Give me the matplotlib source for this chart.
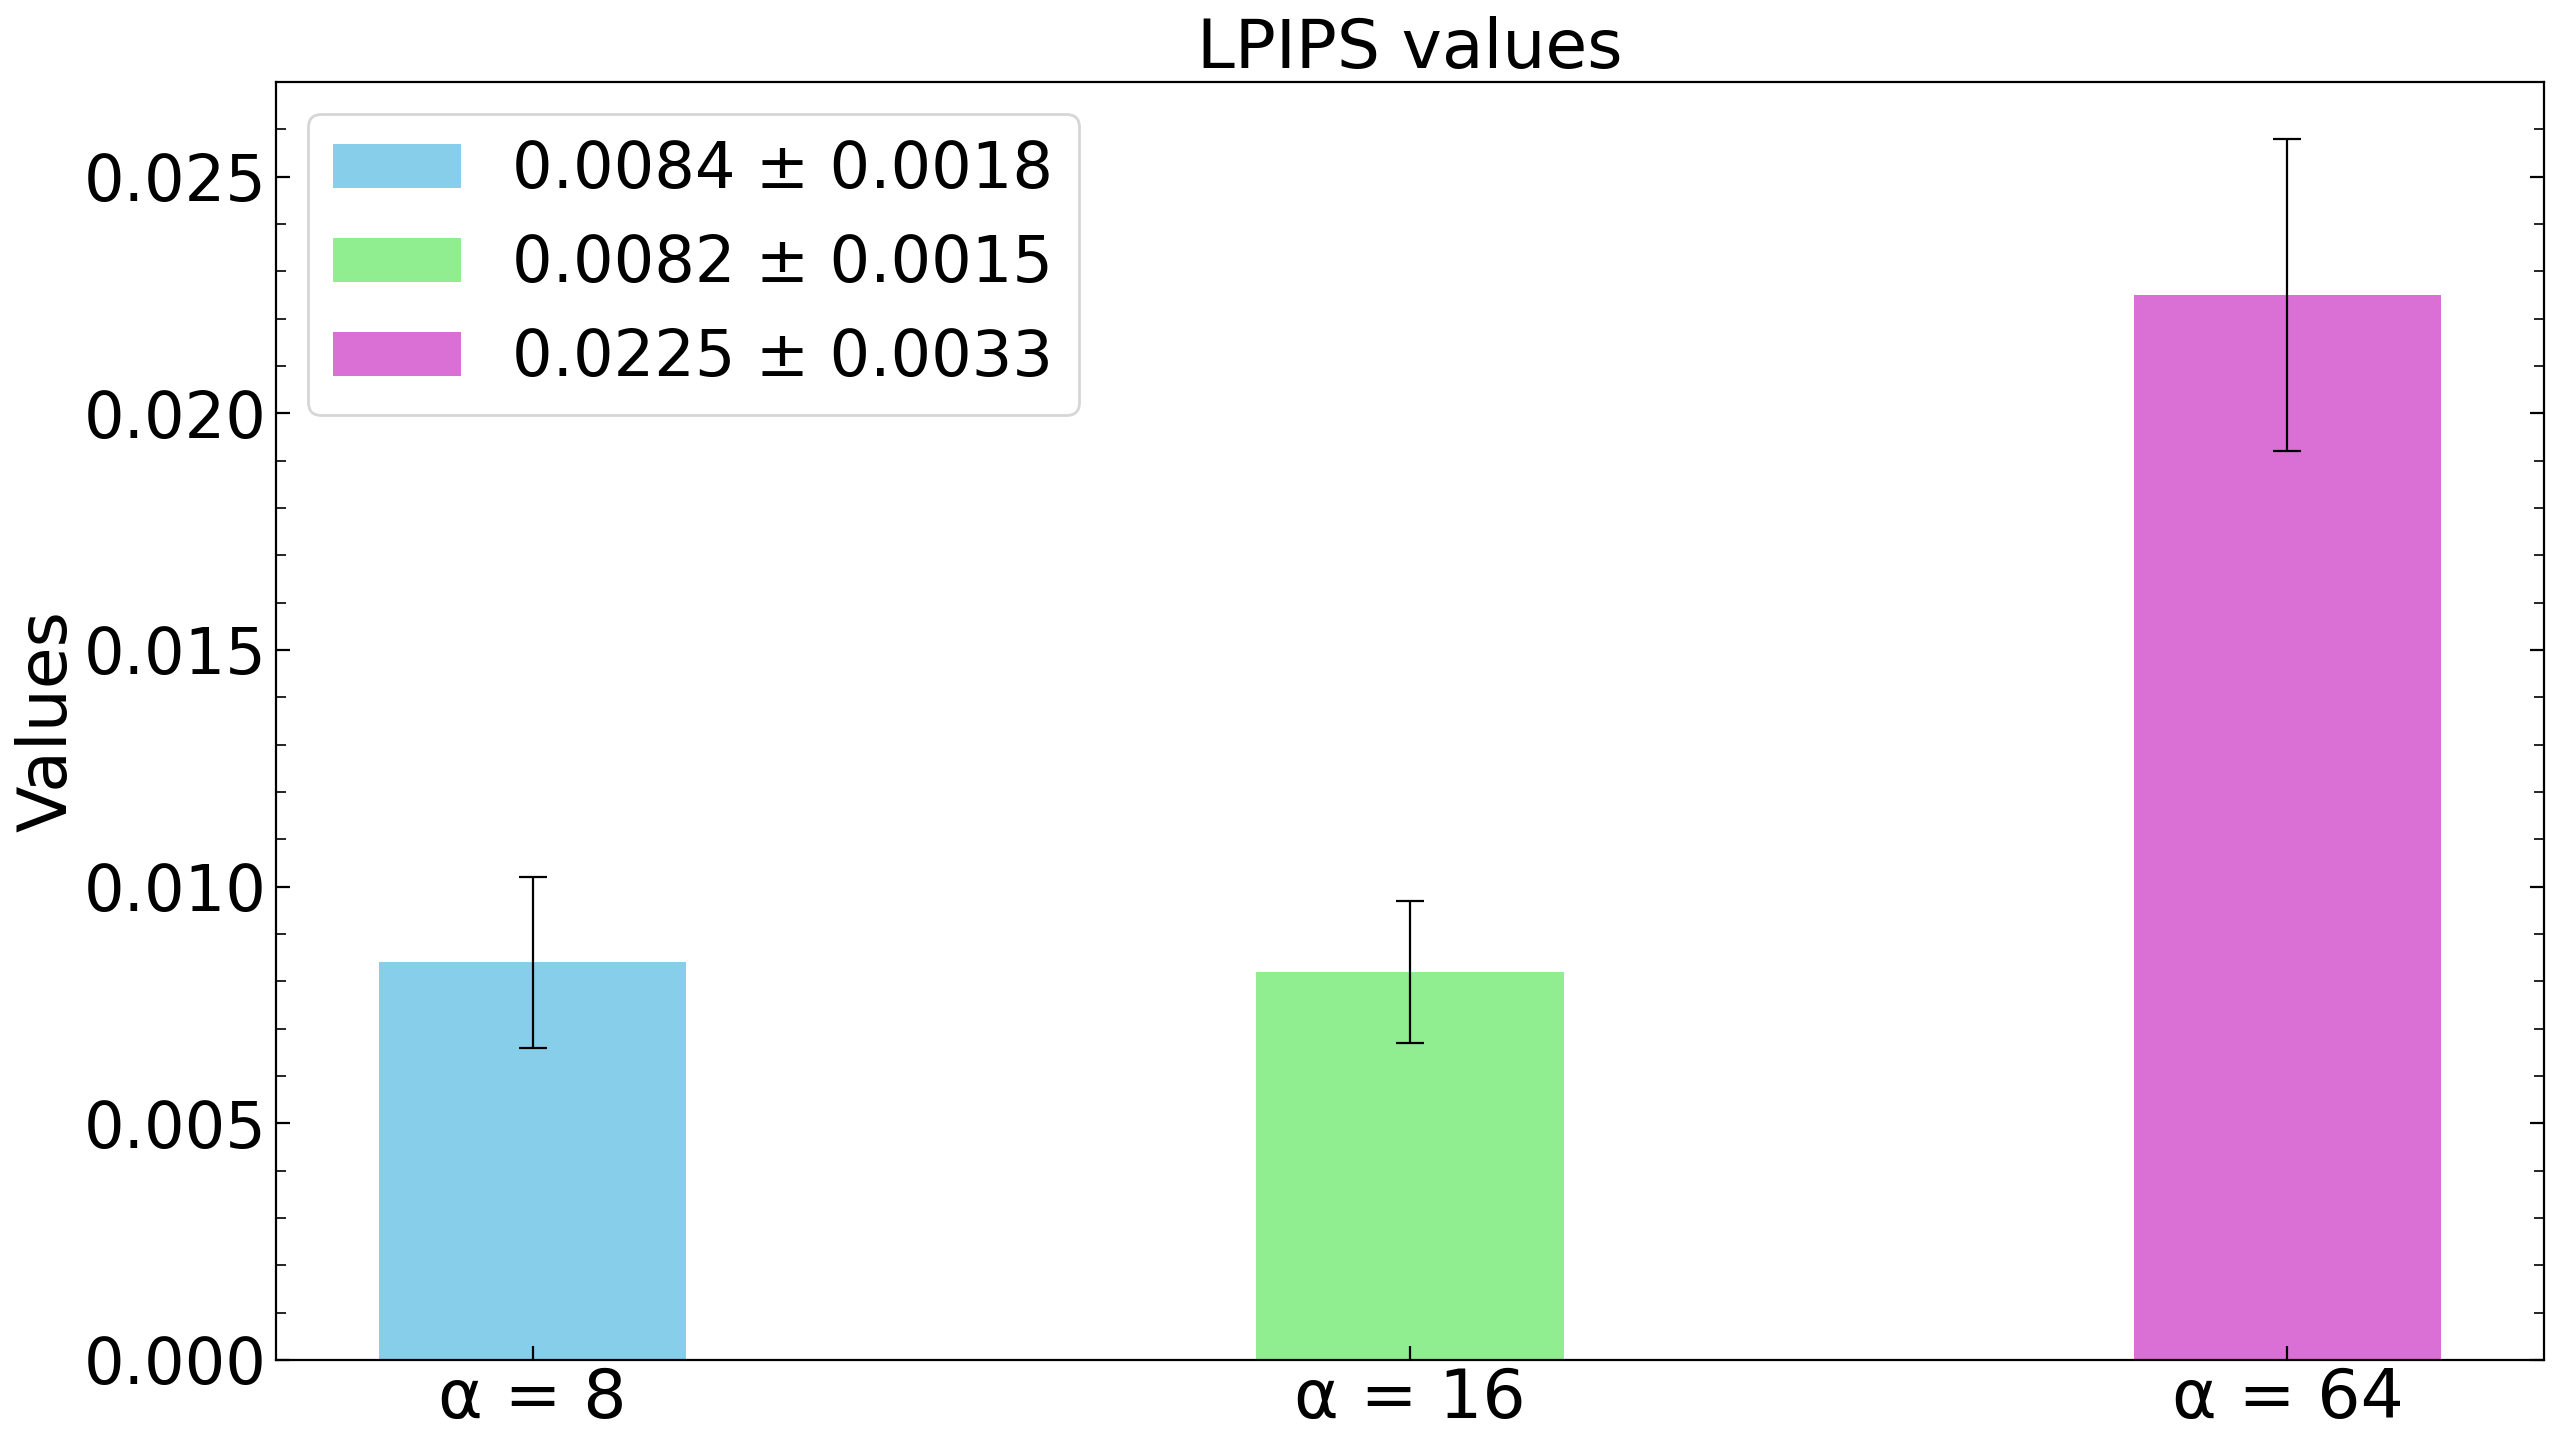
import matplotlib
matplotlib.use('Agg')

import matplotlib.pyplot as plt
from matplotlib.ticker import MultipleLocator

labels = ["α = 8", "α = 16", "α = 64"]
means = [0.0084, 0.0082, 0.0225]
stds = [0.0018, 0.0015, 0.0033]
colors = ["skyblue", "lightgreen", "orchid"]

plt.rcParams['font.size'] = 23

fig, ax = plt.subplots(figsize=(12.8, 7.24), dpi=200)
fig.subplots_adjust(left=0.1078, right=0.9938, top=0.9434, bottom=0.0608)

x = range(len(labels))
for i in x:
    ax.bar(i, means[i], width=0.35, color=colors[i],
           yerr=stds[i], capsize=5, ecolor='black',
           error_kw={'elinewidth': 0.8, 'capthick': 0.8},
           label=f"{means[i]:.4f} ± {stds[i]:.4f}")

ax.set_xticks(list(x))
ax.set_xticklabels(labels, fontsize=24.5)
ax.set_ylim(0, 0.027)
ax.yaxis.set_minor_locator(MultipleLocator(0.001))
ax.tick_params(axis='y', which='both', direction='in', right=True)
ax.tick_params(axis='y', which='major', length=5)
ax.tick_params(axis='y', which='minor', length=3.5)
ax.tick_params(axis='x', direction='in', length=5, pad=2)

ax.set_ylabel("Values", fontsize=24.5, labelpad=1)
ax.set_title("LPIPS values", fontsize=24.5, pad=-1)
ax.legend(loc='upper left', fontsize=23)

plt.savefig("out.png")
